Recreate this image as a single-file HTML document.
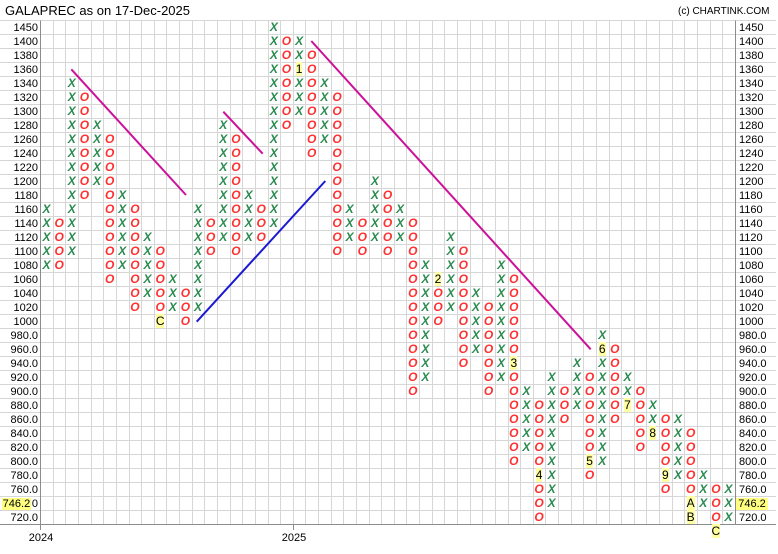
<!DOCTYPE html>
<html><head><meta charset="utf-8"><style>
html,body{margin:0;padding:0;background:#fff;}
#w{position:relative;width:778px;height:554px;overflow:hidden;font-family:"Liberation Sans",Arial,sans-serif;background:#fff;}
svg{position:absolute;left:0;top:0}
.t{position:absolute;white-space:nowrap;color:#000}
#g{position:absolute;left:40.2px;top:19.9px}
#g div{position:absolute;width:12.63px;text-align:center;font:italic bold 12px/14px "Liberation Sans",Arial,sans-serif;white-space:nowrap}
.x{color:#2a8a50}
.o{color:#ff3030}
.m{font-style:normal;font-weight:normal;color:#000;background:#ffffa0}
#l{position:absolute;left:0;top:20.9px;width:38px;text-align:right;font-size:11px;line-height:14px;color:#000}
#r{position:absolute;left:739px;top:20.9px;font-size:11px;line-height:14px;color:#000}
.hl{position:absolute;background:#ffff80;font-size:11px;line-height:12px;height:12px;color:#000}
</style></head><body><div id="w">
<svg width="778" height="554" xmlns="http://www.w3.org/2000/svg">
<path stroke="#d6d6d6" stroke-width="1" fill="none" d="M0 20.5H776M0 34.5H776M0 48.5H776M0 62.5H776M0 76.5H776M0 90.5H776M0 104.5H776M0 118.5H776M0 132.5H776M0 146.5H776M0 160.5H776M0 174.5H776M0 188.5H776M0 202.5H776M0 216.5H776M0 230.5H776M0 244.5H776M0 258.5H776M0 272.5H776M0 286.5H776M0 300.5H776M0 314.5H776M0 328.5H776M0 342.5H776M0 356.5H776M0 370.5H776M0 384.5H776M0 398.5H776M0 412.5H776M0 426.5H776M0 440.5H776M0 454.5H776M0 468.5H776M0 482.5H776M0 496.5H776M0 510.5H776
M53.5 20.5V524.5M65.5 20.5V524.5M78.5 20.5V524.5M91.5 20.5V524.5M103.5 20.5V524.5M116.5 20.5V524.5M129.5 20.5V524.5M141.5 20.5V524.5M154.5 20.5V524.5M166.5 20.5V524.5M179.5 20.5V524.5M192.5 20.5V524.5M204.5 20.5V524.5M217.5 20.5V524.5M230.5 20.5V524.5M242.5 20.5V524.5M255.5 20.5V524.5M268.5 20.5V524.5M280.5 20.5V524.5M293.5 20.5V524.5M305.5 20.5V524.5M318.5 20.5V524.5M331.5 20.5V524.5M343.5 20.5V524.5M356.5 20.5V524.5M369.5 20.5V524.5M381.5 20.5V524.5M394.5 20.5V524.5M406.5 20.5V524.5M419.5 20.5V524.5M432.5 20.5V524.5M444.5 20.5V524.5M457.5 20.5V524.5M470.5 20.5V524.5M482.5 20.5V524.5M495.5 20.5V524.5M508.5 20.5V524.5M520.5 20.5V524.5M533.5 20.5V524.5M545.5 20.5V524.5M558.5 20.5V524.5M571.5 20.5V524.5M583.5 20.5V524.5M596.5 20.5V524.5M609.5 20.5V524.5M621.5 20.5V524.5M634.5 20.5V524.5M646.5 20.5V524.5M659.5 20.5V524.5M672.5 20.5V524.5M684.5 20.5V524.5M697.5 20.5V524.5M710.5 20.5V524.5M722.5 20.5V524.5"/>
<path stroke="#8c8c8c" stroke-width="1" fill="none" d="M40.5 20.5V530M735.5 20.5V524.5M0 524.5H776M293.5 524.5V530"/>
<g stroke-width="2" fill="none">
<line x1="71.3" y1="69.3" x2="186" y2="195" stroke="#cc1199"/>
<line x1="223.3" y1="111.7" x2="262.7" y2="153.7" stroke="#cc1199"/>
<line x1="311.3" y1="41" x2="590.7" y2="349.3" stroke="#cc1199"/>
<line x1="196.7" y1="321.7" x2="325.3" y2="181" stroke="#1a1ad0"/>
</g>
</svg>

<div class="t" style="left:5px;top:2px;font-size:13px;line-height:18px">GALAPREC as on 17-Dec-2025</div>
<div class="t" style="left:678px;top:5px;font-size:10px;line-height:14px">(c) CHARTINK.COM</div>

<div id="l">1450<br>1400<br>1380<br>1360<br>1340<br>1320<br>1300<br>1280<br>1260<br>1240<br>1220<br>1200<br>1180<br>1160<br>1140<br>1120<br>1100<br>1080<br>1060<br>1040<br>1020<br>1000<br>980.0<br>960.0<br>940.0<br>920.0<br>900.0<br>880.0<br>860.0<br>840.0<br>820.0<br>800.0<br>780.0<br>760.0<br>740.0<br>720.0</div>
<div id="r">1450<br>1400<br>1380<br>1360<br>1340<br>1320<br>1300<br>1280<br>1260<br>1240<br>1220<br>1200<br>1180<br>1160<br>1140<br>1120<br>1100<br>1080<br>1060<br>1040<br>1020<br>1000<br>980.0<br>960.0<br>940.0<br>920.0<br>900.0<br>880.0<br>860.0<br>840.0<br>820.0<br>800.0<br>780.0<br>760.0<br>740.0<br>720.0</div>
<div class="hl" style="left:1.7px;top:497.5px;width:29.5px;text-align:center">746.2</div>
<div class="hl" style="left:736px;top:497.5px;width:32px;text-align:center">746.2</div>

<div class="t" style="left:21px;top:531px;width:40px;text-align:center;font-size:11px;line-height:14px">2024</div>
<div class="t" style="left:274px;top:531px;width:40px;text-align:center;font-size:11px;line-height:14px">2025</div>

<div id="g">
<div class="x" style="left:0px;top:182px">X<br>X<br>X<br>X<br>X</div>
<div class="o" style="left:12.63px;top:196px">O<br>O<br>O<br>O</div>
<div class="x" style="left:25.26px;top:56px">X<br>X<br>X<br>X<br>X<br>X<br>X<br>X<br>X<br>X<br>X<br>X<br>X</div>
<div class="o" style="left:37.89px;top:70px">O<br>O<br>O<br>O<br>O<br>O<br>O<br>O</div>
<div class="x" style="left:50.52px;top:98px">X<br>X<br>X<br>X<br>X</div>
<div class="o" style="left:63.15px;top:112px">O<br>O<br>O<br>O<br>O<br>O<br>O<br>O<br>O<br>O<br>O</div>
<div class="x" style="left:75.78px;top:168px">X<br>X<br>X<br>X<br>X<br>X</div>
<div class="o" style="left:88.41px;top:182px">O<br>O<br>O<br>O<br>O<br>O<br>O<br>O</div>
<div class="x" style="left:101.04px;top:210px">X<br>X<br>X<br>X<br>X</div>
<div class="o" style="left:113.67px;top:224px">O<br>O<br>O<br>O<br>O<br><span class="m">C</span></div>
<div class="x" style="left:126.3px;top:252px">X<br>X<br>X</div>
<div class="o" style="left:138.93px;top:266px">O<br>O<br>O</div>
<div class="x" style="left:151.56px;top:182px">X<br>X<br>X<br>X<br>X<br>X<br>X<br>X</div>
<div class="o" style="left:164.19px;top:196px">O<br>O<br>O</div>
<div class="x" style="left:176.82px;top:98px">X<br>X<br>X<br>X<br>X<br>X<br>X<br>X<br>X</div>
<div class="o" style="left:189.45px;top:112px">O<br>O<br>O<br>O<br>O<br>O<br>O<br>O<br>O</div>
<div class="x" style="left:202.08px;top:168px">X<br>X<br>X<br>X</div>
<div class="o" style="left:214.71px;top:182px">O<br>O<br>O</div>
<div class="x" style="left:227.34px;top:0px">X<br>X<br>X<br>X<br>X<br>X<br>X<br>X<br>X<br>X<br>X<br>X<br>X<br>X<br>X</div>
<div class="o" style="left:239.97px;top:14px">O<br>O<br>O<br>O<br>O<br>O<br>O</div>
<div class="x" style="left:252.6px;top:14px">X<br>X<br><span class="m">1</span><br>X<br>X<br>X</div>
<div class="o" style="left:265.23px;top:28px">O<br>O<br>O<br>O<br>O<br>O<br>O<br>O</div>
<div class="x" style="left:277.86px;top:56px">X<br>X<br>X<br>X<br>X</div>
<div class="o" style="left:290.49px;top:70px">O<br>O<br>O<br>O<br>O<br>O<br>O<br>O<br>O<br>O<br>O<br>O</div>
<div class="x" style="left:303.12px;top:182px">X<br>X<br>X</div>
<div class="o" style="left:315.75px;top:196px">O<br>O<br>O</div>
<div class="x" style="left:328.38px;top:154px">X<br>X<br>X<br>X<br>X</div>
<div class="o" style="left:341.01px;top:168px">O<br>O<br>O<br>O<br>O</div>
<div class="x" style="left:353.64px;top:182px">X<br>X<br>X</div>
<div class="o" style="left:366.27px;top:196px">O<br>O<br>O<br>O<br>O<br>O<br>O<br>O<br>O<br>O<br>O<br>O<br>O</div>
<div class="x" style="left:378.9px;top:238px">X<br>X<br>X<br>X<br>X<br>X<br>X<br>X<br>X</div>
<div class="o" style="left:391.53px;top:252px"><span class="m">2</span><br>O<br>O<br>O</div>
<div class="x" style="left:404.16px;top:210px">X<br>X<br>X<br>X<br>X<br>X</div>
<div class="o" style="left:416.79px;top:224px">O<br>O<br>O<br>O<br>O<br>O<br>O<br>O<br>O</div>
<div class="x" style="left:429.42px;top:266px">X<br>X<br>X<br>X<br>X</div>
<div class="o" style="left:442.05px;top:280px">O<br>O<br>O<br>O<br>O<br>O<br>O</div>
<div class="x" style="left:454.68px;top:238px">X<br>X<br>X<br>X<br>X<br>X<br>X<br>X<br>X</div>
<div class="o" style="left:467.31px;top:252px">O<br>O<br>O<br>O<br>O<br>O<br><span class="m">3</span><br>O<br>O<br>O<br>O<br>O<br>O<br>O</div>
<div class="x" style="left:479.94px;top:364px">X<br>X<br>X<br>X<br>X</div>
<div class="o" style="left:492.57px;top:378px">O<br>O<br>O<br>O<br>O<br><span class="m">4</span><br>O<br>O<br>O</div>
<div class="x" style="left:505.2px;top:350px">X<br>X<br>X<br>X<br>X<br>X<br>X<br>X<br>X<br>X</div>
<div class="o" style="left:517.83px;top:364px">O<br>O<br>O</div>
<div class="x" style="left:530.46px;top:336px">X<br>X<br>X<br>X</div>
<div class="o" style="left:543.09px;top:350px">O<br>O<br>O<br>O<br>O<br>O<br><span class="m">5</span><br>O</div>
<div class="x" style="left:555.72px;top:308px">X<br><span class="m">6</span><br>X<br>X<br>X<br>X<br>X<br>X<br>X<br>X</div>
<div class="o" style="left:568.35px;top:322px">O<br>O<br>O<br>O<br>O<br>O</div>
<div class="x" style="left:580.98px;top:350px">X<br>X<br><span class="m">7</span></div>
<div class="o" style="left:593.61px;top:364px">O<br>O<br>O<br>O<br>O</div>
<div class="x" style="left:606.24px;top:378px">X<br>X<br><span class="m">8</span></div>
<div class="o" style="left:618.87px;top:392px">O<br>O<br>O<br>O<br><span class="m">9</span><br>O</div>
<div class="x" style="left:631.5px;top:392px">X<br>X<br>X<br>X<br>X</div>
<div class="o" style="left:644.13px;top:406px">O<br>O<br>O<br>O<br>O<br><span class="m">A</span><br><span class="m">B</span></div>
<div class="x" style="left:656.76px;top:448px">X<br>X<br>X</div>
<div class="o" style="left:669.39px;top:462px">O<br>O<br>O<br><span class="m">C</span></div>
<div class="x" style="left:682.02px;top:462px">X<br>X<br>X</div>
</div>
</div></body></html>
